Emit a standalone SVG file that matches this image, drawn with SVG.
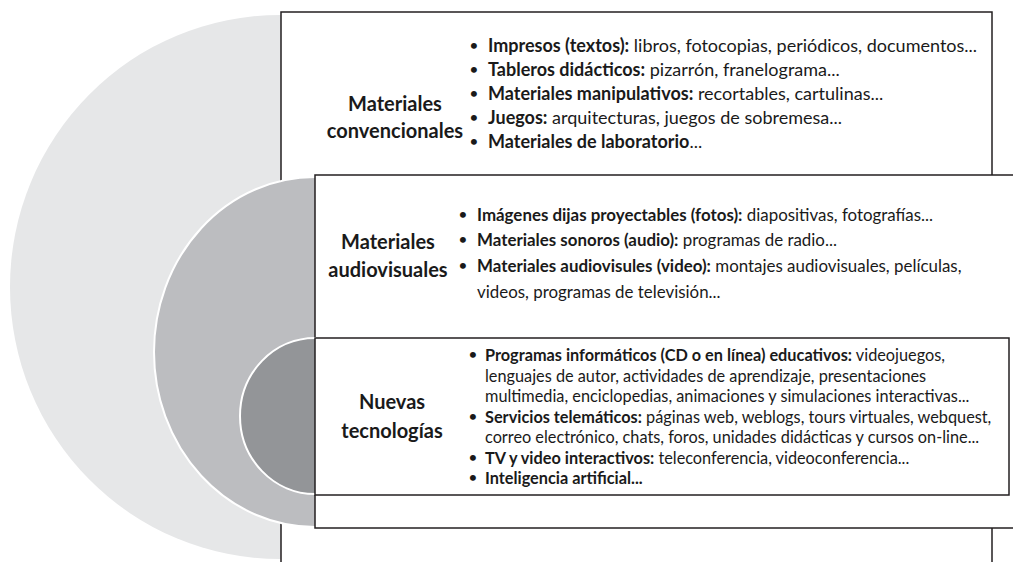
<svg xmlns="http://www.w3.org/2000/svg" width="1013" height="562" viewBox="0 0 1013 562">
<style>
.box{fill:#fff;stroke:#231f20;stroke-width:1.5}
.ring{stroke:#fff;stroke-width:2}
text{font-family:Lato,"Open Sans","Liberation Sans",sans-serif;fill:#1a1a1a}
.t{font-size:20px;font-weight:700;text-anchor:middle}
.b1{font-size:18px}
.b2{font-size:16.9px}
.b3{font-size:16.3px}
.k{font-weight:700}
.d{font-size:16px;text-anchor:middle}
</style>
<rect width="1013" height="562" fill="#fff"/>
<g id="ring-outer"><ellipse cx="280" cy="287" rx="270" ry="272" fill="#e6e7e8"/></g>
<g id="node-convencionales">
<rect class="box" x="281" y="12" width="711" height="600"/>
<text class="t" x="395" y="111">Materiales</text>
<text class="t" x="395" y="138">convencionales</text>
<text class="d" x="474" y="51">•</text>
<text class="d" x="474" y="75">•</text>
<text class="d" x="474" y="99">•</text>
<text class="d" x="474" y="123">•</text>
<text class="d" x="474" y="147">•</text>
<text class="b1" x="488" y="52"><tspan class="k">Impresos (textos):</tspan> libros, fotocopias, periódicos, documentos...</text>
<text class="b1" x="488" y="76"><tspan class="k">Tableros didácticos:</tspan> pizarrón, franelograma...</text>
<text class="b1" x="488" y="100"><tspan class="k">Materiales manipulativos:</tspan> recortables, cartulinas...</text>
<text class="b1" x="488" y="124"><tspan class="k">Juegos:</tspan> arquitecturas, juegos de sobremesa...</text>
<text class="b1" x="488" y="148"><tspan class="k">Materiales de laboratorio</tspan>...</text>
</g>
<g id="ring-middle"><ellipse class="ring" cx="315" cy="352" rx="161" ry="175" fill="#bcbdc0"/></g>
<g id="node-audiovisuales">
<rect class="box" x="315" y="175" width="710" height="353"/>
<text class="t" x="388" y="249">Materiales</text>
<text class="t" x="388" y="277">audiovisuales</text>
<text class="d" x="463" y="220">•</text>
<text class="d" x="463" y="245">•</text>
<text class="d" x="463" y="271">•</text>
<text class="b2" x="477" y="221"><tspan class="k">Imágenes dijas proyectables (fotos):</tspan> diapositivas, fotografías...</text>
<text class="b2" x="477" y="246"><tspan class="k">Materiales sonoros (audio):</tspan> programas de radio...</text>
<text class="b2" x="477" y="272"><tspan class="k">Materiales audiovisules (video):</tspan> montajes audiovisuales, películas,</text>
<text class="b2" x="477" y="298">videos, programas de televisión...</text>
</g>
<g id="ring-inner"><ellipse class="ring" cx="315" cy="416" rx="75" ry="78" fill="#939598"/></g>
<g id="node-nuevas">
<rect class="box" x="315" y="338" width="694" height="157"/>
<text class="t" x="392" y="409">Nuevas</text>
<text class="t" x="392" y="438">tecnologías</text>
<text class="d" x="473" y="360">•</text>
<text class="d" x="473" y="421.5">•</text>
<text class="d" x="473" y="462.5">•</text>
<text class="d" x="473" y="483">•</text>
<text class="b3" x="485" y="361"><tspan class="k">Programas informáticos (CD o en línea) educativos:</tspan> videojuegos,</text>
<text class="b3" x="485" y="381.5">lenguajes de autor, actividades de aprendizaje, presentaciones</text>
<text class="b3" x="485" y="402">multimedia, enciclopedias, animaciones y simulaciones interactivas...</text>
<text class="b3" x="485" y="422.5"><tspan class="k">Servicios telemáticos:</tspan> páginas web, weblogs, tours virtuales, webquest,</text>
<text class="b3" x="485" y="443">correo electrónico, chats, foros, unidades didácticas y cursos on-line...</text>
<text class="b3" x="485" y="463.5"><tspan class="k">TV y video interactivos:</tspan> teleconferencia, videoconferencia...</text>
<text class="b3" x="485" y="484"><tspan class="k">Inteligencia artificial...</tspan></text>
</g>
<g id="connectors"/>
</svg>
